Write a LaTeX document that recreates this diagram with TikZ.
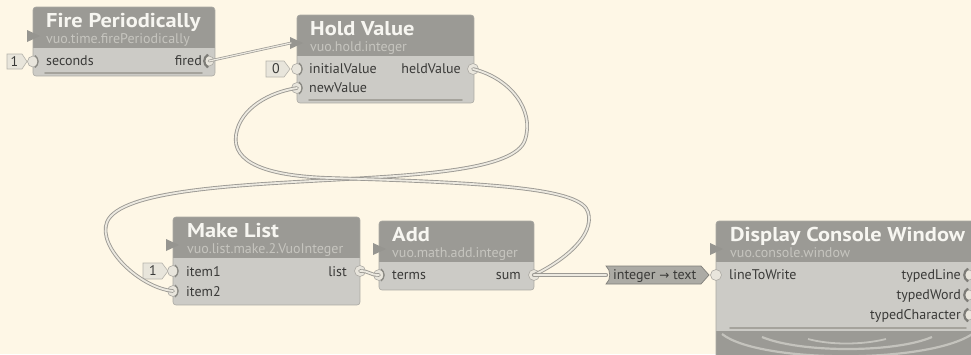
\documentclass[tikz,border=0pt]{standalone}
\usepackage{fontspec}
\setmainfont{PT Sans}
\newfontfamily\ttlfont{PT Sans}[FakeStretch=1.12]
\newfontfamily\arrowfont{DejaVu Sans}
\definecolor{bgc}{RGB}{254,247,230}
\definecolor{hdrc}{RGB}{155,154,149}
\definecolor{bodyc}{RGB}{204,203,198}
\definecolor{brdc}{RGB}{170,169,163}
\definecolor{ttlc}{RGB}{247,246,241}
\definecolor{subc}{RGB}{198,197,191}
\definecolor{lblc}{RGB}{58,58,56}
\definecolor{portf}{RGB}{232,229,220}
\definecolor{portd}{RGB}{172,170,164}
\definecolor{brkc}{RGB}{125,124,119}
\definecolor{cabo}{RGB}{156,154,148}
\definecolor{cabi}{RGB}{236,233,224}
\definecolor{flagf}{RGB}{232,229,219}
\definecolor{flagd}{RGB}{181,179,171}
\definecolor{convf}{RGB}{172,171,165}
\definecolor{convd}{RGB}{128,127,122}
\definecolor{barc}{RGB}{165,163,156}
\definecolor{arcc}{RGB}{196,195,189}
\definecolor{trif}{RGB}{150,149,144}
\tikzset{
  ttl/.style={anchor=base west, inner sep=0pt, text=ttlc, font=\ttlfont\fontsize{20}{20}\selectfont\bfseries},
  subt/.style={anchor=base west, inner sep=0pt, text=subc, font=\fontsize{14}{14}\selectfont},
  lbl/.style={anchor=base west, inner sep=0pt, text=lblc, font=\fontsize{14}{14}\selectfont},
  rlbl/.style={lbl, anchor=base east},
  portst/.style={fill=portf, draw=portd, line width=0.6pt},
  brk/.style={draw=brkc, line width=1.3pt},
  cable/.style={draw=cabo, line width=0.9pt, double=cabi, double distance=1.8pt, line cap=round},
  evcable/.style={draw=cabo, line width=0.7pt, double=cabi, double distance=1.2pt, line cap=round},
  flag/.style={fill=flagf, draw=flagd, line width=0.6pt},
  flagtxt/.style={inner sep=0pt, text=lblc, font=\fontsize{14}{14}\selectfont},
  tri/.style={fill=trif},
  barst/.style={draw=barc, line width=1.6pt, line cap=round},
}
\newcommand{\vuonode}[5]{%
  \begin{scope}
    \clip[rounded corners=3pt] (#1,#2) rectangle (#3,#4);
    \fill[bodyc] (#1,#2) rectangle (#3,#4);
    \fill[hdrc] (#1,#2) rectangle (#3,#5);
  \end{scope}
  \draw[brdc, line width=0.6pt, rounded corners=3pt] (#1,#2) rectangle (#3,#4);
}
\newcommand{\inport}[3]{%
  \coordinate (#1) at (#2,#3);
  \path[portst] (#1) circle (5.5pt);
  \draw[brk, draw=brkc!70!portd, line width=1.3pt] (#2+2,#3-6) .. controls (#2+6,#3-3) and (#2+6,#3+3) .. (#2+2,#3+6);
}
\newcommand{\outport}[3]{%
  \coordinate (#1) at (#2,#3);
  \path[portst] (#1) circle (5.5pt);
}
\newcommand{\evport}[3]{%
  \coordinate (#1) at (#2,#3);
  \path[portst] (#1) circle (5pt);
  \draw[brk, line width=2.2pt] (#2-1,#3-6.5) .. controls (#2-6,#3-3) and (#2-6,#3+3) .. (#2-1,#3+6.5);
}
\begin{document}
\begin{tikzpicture}[x=1pt, y=-1pt]
\clip (0,0) rectangle (971,354);
\fill[bgc] (0,0) rectangle (971,354);

% ---------- Fire Periodically ----------
\vuonode{33}{7}{215}{76}{48}
\draw[barst] (45,73) -- (202,73);
\fill[tri] (27,30) -- (40,36) -- (27,42) -- cycle;
\node[ttl] (fpT) at (46,27) {Fire Periodically};
\node[subt] (fpS) at (46,43) {vuo.time.firePeriodically};
\node[lbl] (fpL1) at (46,65.5) {seconds};
\node[rlbl] (fpL2) at (202,65.5) {fired};
\path[flag] (7,54) -- (22,54) -- (27,61.5) -- (22,69) -- (7,69) -- cycle;
\node[flagtxt] (fpC) at (14.5,61.5) {1};
\inport{fpSec}{33}{61.5}
\evport{fpFired}{209}{61}

% ---------- Hold Value ----------
\vuonode{297}{15}{474}{103}{56}
\draw[barst] (309,100) -- (462,100);
\fill[tri] (290,37) -- (303,43) -- (290,49) -- cycle;
\coordinate (hvRef) at (291,43);
\node[ttl] (hvT) at (310,35) {Hold Value};
\node[subt] (hvS) at (310,51) {vuo.hold.integer};
\node[lbl] (hvL1) at (309,73.5) {initialValue};
\node[lbl] (hvL2) at (309,92.5) {newValue};
\node[rlbl] (hvL3) at (461,73.5) {heldValue};
\path[flag] (266,61) -- (284,61) -- (290,69) -- (284,77) -- (266,77) -- cycle;
\node[flagtxt] (hvC) at (276,69) {0};
\inport{hvInit}{297}{69}
\inport{hvNew}{297}{88}
\outport{hvHeld}{473}{69}

% ---------- Make List ----------
\vuonode{173}{217}{360}{305}{258}
\fill[tri] (166,239) -- (179,245) -- (166,251) -- cycle;
\node[ttl] (mlT) at (187,237) {Make List};
\node[subt] (mlS) at (187,253) {vuo.list.make.2.VuoInteger};
\node[lbl] (mlL1) at (186,276) {item1};
\node[lbl] (mlL2) at (186,296) {item2};
\node[rlbl] (mlL3) at (347,276) {list};
\path[flag] (143,263) -- (162,263) -- (168,271) -- (162,279) -- (143,279) -- cycle;
\node[flagtxt] (mlC) at (153,271) {1};
\inport{mlI1}{173}{271}
\inport{mlI2}{173}{291}
\outport{mlList}{360}{271}

% ---------- Add ----------
\vuonode{379}{221}{534}{290}{262}
\fill[tri] (373,243) -- (386,249) -- (373,255) -- cycle;
\node[ttl] (adT) at (392,241) {Add};
\node[subt] (adS) at (392,257) {vuo.math.add.integer};
\node[lbl] (adL1) at (392,279.5) {terms};
\node[rlbl] (adL2) at (521,279.5) {sum};
\inport{adTerms}{379}{275}
\outport{adSum}{534}{275}

% ---------- Display Console Window ----------
\begin{scope}
  \clip[rounded corners=3pt] (716,221) rectangle (990,380);
  \fill[bodyc] (716,221) rectangle (990,380);
  \fill[hdrc] (716,221) rectangle (990,262);
  \fill[hdrc] (716,331) rectangle (990,380);
\end{scope}
\draw[brdc, line width=0.6pt, rounded corners=3pt] (716,221) rectangle (990,380);
\draw[barst] (730,328) -- (966,328);
\draw[arcc, line width=2.2pt] (722,334) .. controls (760,364) and (935,364) .. (975,332);
\draw[arcc, line width=2.2pt] (762,337) .. controls (800,353) and (895,353) .. (932,337);
\draw[arcc, line width=1.8pt] (808,339) .. controls (830,345) and (862,345) .. (886,339);
\fill[tri] (710,243) -- (723,249) -- (710,255) -- cycle;
\node[ttl] (dcT) at (730,241) {Display Console Window};
\node[subt] (dcS) at (730,257) {vuo.console.window};
\node[lbl] (dcL1) at (729,279.5) {lineToWrite};
\node[rlbl] (dcL2) at (961,279.5) {typedLine};
\node[rlbl] (dcL3) at (961,299.5) {typedWord};
\node[rlbl] (dcL4) at (961,319.5) {typedCharacter};
\outport{dcLine}{716}{275}
\evport{dcTL}{969}{275}
\evport{dcTW}{969}{295}
\evport{dcTC}{969}{315}

% ---------- Type converter ----------
\path[fill=convf, draw=convd, line width=0.7pt] (606,266) -- (701,266) -- (709,275) -- (701,284) -- (606,284) .. controls (611,280) and (611,270) .. (606,266) -- cycle;
\coordinate (cvIn) at (606,275);
\node[lbl] (cvT) at (613,279.5) {integer {\arrowfont\fontsize{12}{12}\selectfont →} text};

% ---------- Cables ----------
\draw[evcable] (fpFired) -- (hvRef);
\draw[cable] (hvHeld) .. controls (510,78) and (535,110) .. (525,140)
  .. controls (515,170) and (420,175) .. (330,180)
  .. controls (240,185) and (120,190) .. (107,222)
  .. controls (97,247) and (140,288) .. (mlI2);
\draw[cable] (adSum) .. controls (565,260) and (595,235) .. (588,212)
  .. controls (581,189) and (500,183) .. (330,178)
  .. controls (265,176) and (232,162) .. (236,135)
  .. controls (240,108) and (270,92) .. (hvNew);
\draw[cable] (mlList) .. controls (370,271) and (369,275) .. (adTerms);
\draw[cable, line width=1pt, double distance=2.4pt] (adSum) -- (cvIn);
\end{tikzpicture}
\end{document}
